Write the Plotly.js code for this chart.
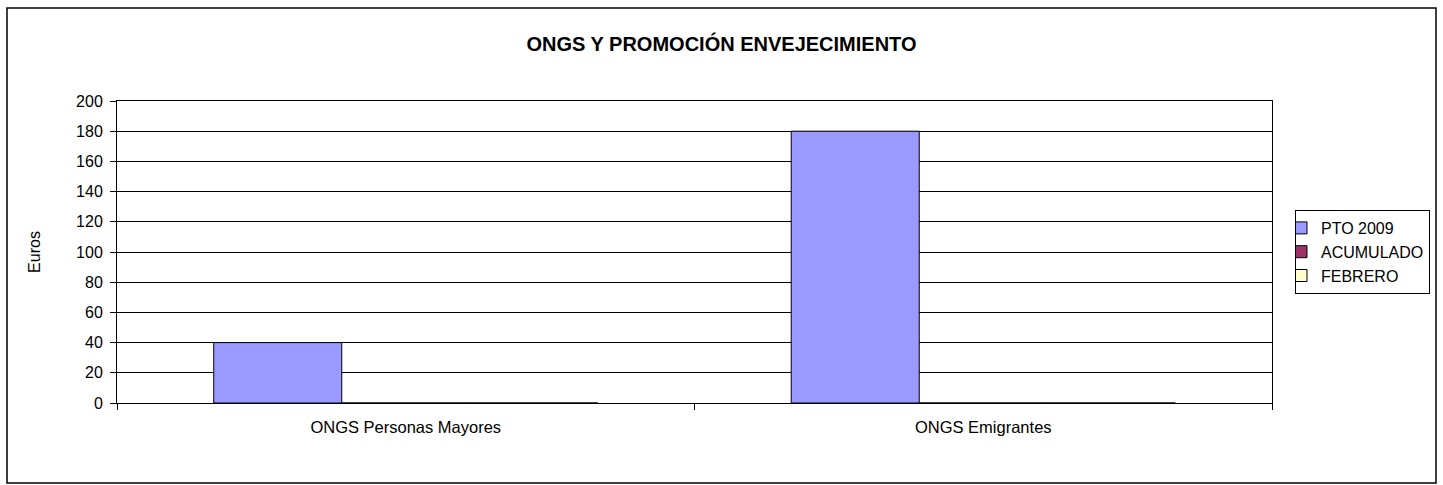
<!DOCTYPE html>
<html>
<head>
<meta charset="utf-8">
<script src="https://cdn.plot.ly/plotly-3.0.1.min.js"></script>
<style>html,body{margin:0;padding:0;background:#fff;}#chart{width:1443px;height:485px;}</style>
</head>
<body>
<div id="chart"></div>
<script>
const categories = ["ONGS Personas Mayores", "ONGS Emigrantes"];
const pto2009 = [40, 180];
const acumulado = [0, 0];
const febrero = [0, 0];
const seriesNames = ["PTO 2009", "ACUMULADO", "FEBRERO"];
const seriesColors = ["#9999FF", "#993366", "#FFFFCC"];
const yTicks = [0, 20, 40, 60, 80, 100, 120, 140, 160, 180, 200];

const seriesValues = [pto2009, acumulado, febrero];
const data = seriesValues.map((vals, i) => ({
  type: "bar",
  name: seriesNames[i],
  x: categories,
  y: vals,
  marker: {color: seriesColors[i], line: {color: "#000", width: 1}},
  hoverinfo: "x+y+name"
}));

const W = 1443, H = 485;
const L = 117, R = 1272, T = 101, B = 403;
const pw = R - L, ph = B - T;
const px = v => (v - L) / pw;
const py = v => (B - v) / ph;

const layout = {
  width: W, height: H,
  margin: {l: L, r: W - R, t: T, b: H - B, pad: 0},
  paper_bgcolor: "#fff",
  plot_bgcolor: "#fff",
  font: {family: "Liberation Sans, Arial, sans-serif", size: 16, color: "#000"},
  title: {
    text: "<b>ONGS Y PROMOCIÓN ENVEJECIMIENTO</b>",
    font: {size: 20, color: "#000"},
    x: 0.5, xanchor: "center", xref: "container",
    y: 1 - 44 / H, yanchor: "middle", yref: "container"
  },
  barmode: "group",
  bargap: 0.335,
  bargroupgap: 0,
  showlegend: true,
  legend: {
    x: px(1295), xanchor: "left",
    y: 0.5, yanchor: "middle",
    bordercolor: "#000", borderwidth: 1,
    bgcolor: "#fff",
    font: {size: 16, color: "#000"},
    tracegroupgap: 0,
    itemwidth: 30,
    indentation: -15
  },
  xaxis: {
    type: "category",
    showline: true, linecolor: "#000", linewidth: 1, mirror: true,
    ticks: "outside", ticklen: 6, tickcolor: "#000", tickwidth: 1,
    tickson: "boundaries",
    ticklabelstandoff: 9,
    showgrid: false, zeroline: false,
    tickfont: {size: 16.5, color: "#000"},
    fixedrange: true
  },
  yaxis: {
    range: [0, 200],
    tickvals: yTicks,
    ticktext: yTicks.map(String),
    showline: true, linecolor: "#000", linewidth: 1, mirror: true,
    ticks: "outside", ticklen: 6, tickcolor: "#000", tickwidth: 1,
    ticklabelstandoff: 4,
    showgrid: true, gridcolor: "#000", gridwidth: 1,
    zeroline: false,
    tickfont: {size: 16, color: "#000"},
    title: {text: "Euros", font: {size: 16, color: "#000"}, standoff: 31},
    fixedrange: true
  },
  shapes: [{
    type: "rect", xref: "paper", yref: "paper",
    x0: px(7), x1: px(1436), y0: py(483), y1: py(8),
    line: {color: "#000", width: 1.5}, fillcolor: "rgba(0,0,0,0)", layer: "below"
  }]
};

Plotly.newPlot("chart", data, layout, {displayModeBar: false, staticPlot: true});
</script>
</body>
</html>
